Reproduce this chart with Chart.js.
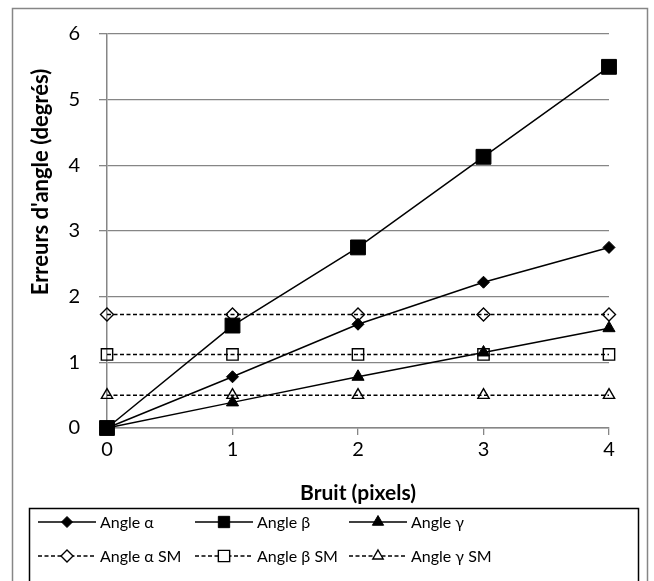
<!DOCTYPE html>
<html>
<head>
<meta charset="utf-8">
<script src="https://cdn.jsdelivr.net/npm/chart.js@4/dist/chart.umd.min.js"></script>
<style>
  html, body { margin: 0; padding: 0; background: #fff; }
</style>
</head>
<body>
<canvas id="chart" width="654" height="581"></canvas>
<script>
// data
const noise = [0, 1, 2, 3, 4];                        // Bruit (pixels)
const angleAlpha = [0, 0.78, 1.58, 2.22, 2.75];
const angleBeta = [0, 1.56, 2.75, 4.13, 5.50];
const angleGamma = [0, 0.39, 0.78, 1.15, 1.52];
const alphaSM = [1.73, 1.73, 1.73, 1.73, 1.73];
const betaSM = [1.12, 1.12, 1.12, 1.12, 1.12];
const gammaSM = [0.50, 0.50, 0.50, 0.50, 0.50];
const seriesNames = ['Angle α', 'Angle β', 'Angle γ', 'Angle α SM', 'Angle β SM', 'Angle γ SM'];
const yTicks = [0, 1, 2, 3, 4, 5, 6];
const xTicks = [0, 1, 2, 3, 4];
const yTitle = "Erreurs d'angle (degrés)";
const xTitle = 'Bruit (pixels)';

const FONT = 'Lato, "Open Sans", sans-serif';
const GRAY = '#868686';

function toPoints(values) {
    return noise.map((x, i) => ({ x: x, y: values[i] }));
}

function series(name, values, style, radius, filled, dashed) {
    return {
        label: name,
        data: toPoints(values),
        borderColor: '#000',
        borderWidth: 1.5,
        borderDash: dashed ? [4, 2.5] : [],
        pointStyle: style,
        pointRadius: radius,
        pointHoverRadius: radius,
        pointBackgroundColor: filled ? '#000' : 'rgba(0,0,0,0)',
        pointBorderColor: '#000',
        pointBorderWidth: filled ? 1 : 1.4,
        fill: false,
        tension: 0,
        clip: false
    };
}

const datasets = [
    series(seriesNames[0], angleAlpha, 'rectRot', 6, true, false),
    series(seriesNames[1], angleBeta, 'rect', 10.5, true, false),
    series(seriesNames[2], angleGamma, 'triangle', 7, true, false),
    series(seriesNames[3], alphaSM, 'rectRot', 6.5, false, true),
    series(seriesNames[4], betaSM, 'rect', 8, false, true),
    series(seriesNames[5], gammaSM, 'triangle', 6.5, false, true)
];

// small marker drawer for the legend
function drawMarker(ctx, style, x, y, r, filled) {
    ctx.save();
    ctx.beginPath();
    if (style === 'rect') {
        const s = Math.SQRT1_2 * r;
        ctx.rect(x - s, y - s, 2 * s, 2 * s);
    } else if (style === 'rectRot') {
        ctx.moveTo(x, y - r);
        ctx.lineTo(x + r, y);
        ctx.lineTo(x, y + r);
        ctx.lineTo(x - r, y);
        ctx.closePath();
    } else {
        ctx.moveTo(x, y - r);
        ctx.lineTo(x + r * 0.866, y + r * 0.5);
        ctx.lineTo(x - r * 0.866, y + r * 0.5);
        ctx.closePath();
    }
    ctx.setLineDash([]);
    ctx.lineWidth = filled ? 1 : 1.4;
    ctx.strokeStyle = '#000';
    ctx.fillStyle = filled ? '#000' : '#fff';
    ctx.fill();
    ctx.stroke();
    ctx.restore();
}

const frameAndLegend = {
    id: 'frameAndLegend',
    beforeDraw(chart) {
        const ctx = chart.ctx;
        ctx.save();
        ctx.fillStyle = '#fff';
        ctx.fillRect(0, 0, chart.width, chart.height);
        ctx.strokeStyle = GRAY;
        ctx.lineWidth = 1.5;
        ctx.strokeRect(12.5, 8.5, 635, 600);
        ctx.restore();
    },
    afterDraw(chart) {
        const ctx = chart.ctx;
        ctx.save();
        // y axis title (sits higher than the plot centre in the original)
        ctx.save();
        ctx.translate(41, 182);
        ctx.rotate(-Math.PI / 2);
        ctx.font = 'bold 22px ' + FONT;
        ctx.textAlign = 'center';
        ctx.textBaseline = 'middle';
        ctx.fillStyle = '#000';
        ctx.fillText(yTitle, 0, 0);
        ctx.restore();

        // legend box
        ctx.strokeStyle = '#000';
        ctx.lineWidth = 1.5;
        ctx.strokeRect(29.5, 508.5, 609, 100);
        const cols = [38, 195, 349];
        const rows = [522, 556];
        ctx.font = '16px ' + FONT;
        ctx.textBaseline = 'middle';
        ctx.fillStyle = '#000';
        chart.data.datasets.forEach((ds, i) => {
            const x0 = cols[i % 3];
            const y = rows[Math.floor(i / 3)];
            ctx.beginPath();
            ctx.strokeStyle = '#000';
            ctx.lineWidth = 1.5;
            ctx.setLineDash(ds.borderDash);
            ctx.moveTo(x0, y);
            ctx.lineTo(x0 + 58, y);
            ctx.stroke();
            drawMarker(ctx, ds.pointStyle, x0 + 29, y,
                ds.pointStyle === 'rect' ? Math.min(ds.pointRadius, 8) : ds.pointRadius - 0.5,
                ds.pointBackgroundColor === '#000');
            ctx.fillText(ds.label, x0 + 62, y + 1);
        });
        ctx.restore();
    }
};

new Chart(document.getElementById('chart'), {
    type: 'line',
    data: { datasets: datasets },
    plugins: [frameAndLegend],
    options: {
        responsive: false,
        animation: false,
        layout: { padding: { top: 34, right: 45, bottom: 74, left: 0 } },
        plugins: {
            legend: { display: false },
            tooltip: { enabled: false }
        },
        scales: {
            x: {
                type: 'linear',
                min: 0,
                max: 4,
                afterFit(scale) { scale.height = 79; },
                afterBuildTicks(scale) { scale.ticks = xTicks.map(v => ({ value: v })); },
                ticks: { color: '#000', font: { family: FONT, size: 20 }, padding: 3 },
                grid: { drawOnChartArea: false, drawTicks: true, tickLength: 7, color: GRAY, lineWidth: 1.3 },
                border: { display: true, color: GRAY, width: 1.5 },
                title: {
                    display: true,
                    text: xTitle,
                    color: '#000',
                    font: { family: FONT, size: 21, weight: 'bold' },
                    padding: { top: 0, bottom: 1 }
                }
            },
            y: {
                type: 'linear',
                min: 0,
                max: 6,
                afterFit(scale) { scale.width = 107; },
                afterBuildTicks(scale) { scale.ticks = yTicks.map(v => ({ value: v })); },
                ticks: { color: '#000', font: { family: FONT, size: 20 }, padding: 19 },
                grid: { color: GRAY, lineWidth: 1.3, drawTicks: true, tickLength: 8 },
                border: { display: true, color: GRAY, width: 1.5 },
                title: { display: false }
            }
        }
    }
});
</script>
</body>
</html>
